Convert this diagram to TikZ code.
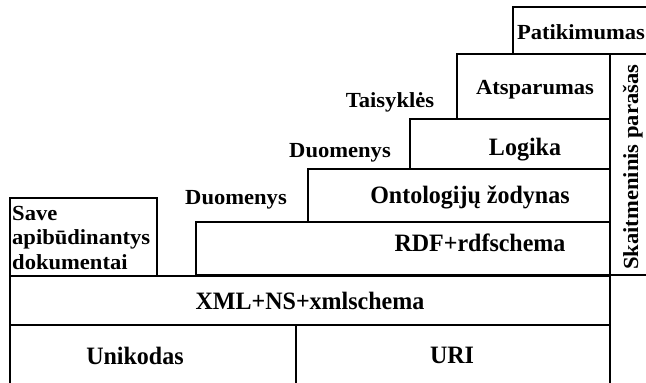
\documentclass[tikz,border=0pt]{standalone}
\usepackage{fontspec}
\setmainfont{Liberation Serif}
\newfontfamily\layerfont{Liberation Serif}[FakeStretch=0.96]
\newfontfamily\notefont{Liberation Serif}[FakeStretch=1.05]
\begin{document}
\begin{tikzpicture}[x=1pt,y=-1pt,
  layer/.style={draw=black,line width=1.6pt},
  big/.style={font=\layerfont\fontsize{25}{28}\selectfont\bfseries,inner sep=0pt,anchor=base},
  small/.style={font=\notefont\fontsize{21.5}{24.5}\selectfont\bfseries,inner sep=0pt,anchor=base}]
\useasboundingbox (0,0) rectangle (646,383);
\fill[white] (0,0) rectangle (646,383);
\begin{scope}
  \clip (0,0) rectangle (646,383);
  % stacked layers, top to bottom
  \draw[layer] (513,7) rectangle (660,54);
  \draw[layer] (457,54) rectangle (610,119);
  \draw[layer] (610,54) rectangle (660,275);
  \draw[layer] (410,119) rectangle (610,169);
  \draw[layer] (308,169) rectangle (610,222);
  \draw[layer] (196,222) rectangle (610,275);
  \draw[layer] (10,198) rectangle (157,276);
  \draw[layer] (10,276) rectangle (610,325);
  \draw[layer] (10,325) rectangle (296,395);
  \draw[layer] (296,325) rectangle (610,395);
\end{scope}
% layer labels
\node[small] (trust) at (581,39) {Patikimumas};
\node[small] (proof) at (535,94) {Atsparumas};
\node[big]   (logic) at (525,155) {Logika};
\node[big]   (onto)  at (470,203) {Ontologijų žodynas};
\node[big]   (rdf)   at (480,251) {RDF+rdfschema};
\node[big]   (xml)   at (310,309) {XML+NS+xmlschema};
\node[big]   (uni)   at (135,364) {Unikodas};
\node[big]   (uri)   at (452,363) {URI};
% side captions
\node[small] (rules) at (390,107) {Taisyklės};
\node[small] (data2) at (340,157) {Duomenys};
\node[small] (data1) at (236,204) {Duomenys};
\node[small,anchor=base west,align=left] (self) at (12,269) {Save\\apibūdinantys\\dokumentai};
\node[small,rotate=90,anchor=base west] (sig) at (638,270) {Skaitmeninis parašas};
\end{tikzpicture}
\end{document}
